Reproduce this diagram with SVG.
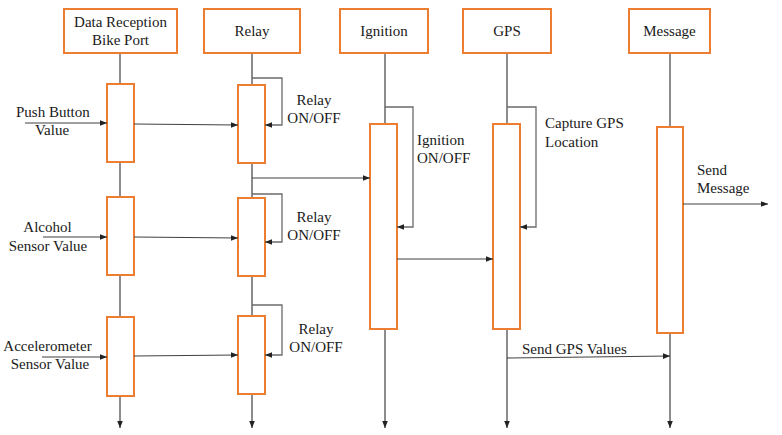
<svg xmlns="http://www.w3.org/2000/svg" width="782" height="435" viewBox="0 0 782 435">
<style>
.box{fill:#fff;stroke:#ED7D31;stroke-width:2}
.act{fill:#fff;stroke:#ED7D31;stroke-width:2}
.life{stroke:#404040;stroke-width:1.2;fill:none}
.msg{stroke:#404040;stroke-width:1.2;fill:none}
.loop{stroke:#6b6b6b;stroke-width:1.3;fill:none}
text{font-family:'Liberation Serif','Times New Roman',Times,serif;font-size:15px;fill:#1a1a1a}
.c{text-anchor:middle}
</style>
<defs>
<marker id="ah" viewBox="0 0 10 10" refX="10" refY="5" markerWidth="7" markerHeight="7" markerUnits="userSpaceOnUse" orient="auto">
<path d="M0,1 L10,5 L0,9 z" fill="#222"/>
</marker>
</defs>
<g id="lifelines">
<line class="life" x1="120" y1="53" x2="120" y2="428" marker-end="url(#ah)"/>
<line class="life" x1="252" y1="53" x2="252" y2="428" marker-end="url(#ah)"/>
<line class="life" x1="385" y1="53" x2="385" y2="428" marker-end="url(#ah)"/>
<line class="life" x1="507" y1="53" x2="507" y2="428" marker-end="url(#ah)"/>
<line class="life" x1="670" y1="53" x2="670" y2="428" marker-end="url(#ah)"/>
</g>
<g id="node-data-reception">
<rect class="box" x="64" y="9" width="113" height="44"/>
<text class="c" x="120.5" y="27">Data Reception</text>
<text class="c" x="120.5" y="45">Bike Port</text>
<rect class="act" x="107" y="84" width="27" height="78"/>
<rect class="act" x="107" y="197" width="27" height="78"/>
<rect class="act" x="107" y="317" width="27" height="79"/>
</g>
<g id="node-relay">
<rect class="box" x="204" y="9" width="96" height="44"/>
<text class="c" x="252" y="36">Relay</text>
<rect class="act" x="238" y="85" width="27" height="78"/>
<rect class="act" x="238" y="198" width="27" height="78"/>
<rect class="act" x="238" y="316" width="27" height="78"/>
</g>
<g id="node-ignition">
<rect class="box" x="340" y="9" width="88" height="44"/>
<text class="c" x="384" y="36">Ignition</text>
<rect class="act" x="370" y="124" width="27" height="205"/>
</g>
<g id="node-gps">
<rect class="box" x="463" y="9" width="88" height="44"/>
<text class="c" x="507" y="36">GPS</text>
<rect class="act" x="493" y="124" width="27" height="205"/>
</g>
<g id="node-message">
<rect class="box" x="629" y="9" width="81" height="44"/>
<text class="c" x="669.5" y="36">Message</text>
<rect class="act" x="657" y="127" width="26" height="206"/>
</g>
<g id="connectors">
<line class="msg" x1="25" y1="123" x2="107" y2="123" marker-end="url(#ah)"/>
<line class="msg" x1="43" y1="237" x2="107" y2="237" marker-end="url(#ah)"/>
<line class="msg" x1="42" y1="357" x2="107" y2="357" marker-end="url(#ah)"/>
<line class="msg" x1="134" y1="124" x2="238" y2="125" marker-end="url(#ah)"/>
<line class="msg" x1="134" y1="237" x2="238" y2="238" marker-end="url(#ah)"/>
<line class="msg" x1="134" y1="356" x2="238" y2="355" marker-end="url(#ah)"/>
<polyline class="loop" points="252,78 282,78 282,125 265,125" marker-end="url(#ah)"/>
<polyline class="loop" points="252,194 282,194 282,242 265,242" marker-end="url(#ah)"/>
<polyline class="loop" points="252,305 282,305 282,355 265,355" marker-end="url(#ah)"/>
<line class="msg" x1="252" y1="178" x2="370" y2="178" marker-end="url(#ah)"/>
<polyline class="loop" points="385,107 413,107 413,227 397,227" marker-end="url(#ah)"/>
<line class="msg" x1="397" y1="259" x2="493" y2="259" marker-end="url(#ah)"/>
<polyline class="loop" points="507,107 536,107 536,227 520,227" marker-end="url(#ah)"/>
<line class="msg" x1="683" y1="204" x2="768" y2="204" marker-end="url(#ah)"/>
<line class="msg" x1="507" y1="358" x2="670" y2="356" marker-end="url(#ah)"/>
</g>
<g id="labels">
<text x="16" y="117">Push Button</text>
<text class="c" x="52" y="135">Value</text>
<text class="c" x="47.5" y="232">Alcohol</text>
<text class="c" x="48" y="251">Sensor Value</text>
<text class="c" x="47.5" y="351">Accelerometer</text>
<text class="c" x="50" y="369">Sensor Value</text>
<text class="c" x="314" y="105">Relay</text>
<text class="c" x="314" y="123">ON/OFF</text>
<text class="c" x="314" y="222">Relay</text>
<text class="c" x="314" y="240">ON/OFF</text>
<text class="c" x="316" y="334">Relay</text>
<text class="c" x="316" y="352">ON/OFF</text>
<text x="417" y="145">Ignition</text>
<text x="417" y="163">ON/OFF</text>
<text x="545" y="128">Capture GPS</text>
<text x="545" y="147">Location</text>
<text x="697" y="175">Send</text>
<text x="697" y="193">Message</text>
<text x="522" y="354">Send GPS Values</text>
</g>
</svg>
